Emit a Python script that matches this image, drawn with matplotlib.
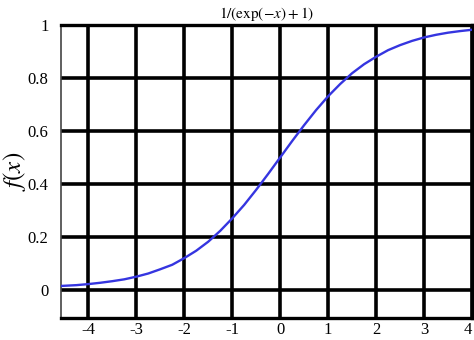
import matplotlib
matplotlib.use("Agg")
import matplotlib.pyplot as plt

plt.rcParams['font.family'] = ['Liberation Serif', 'DejaVu Serif']
plt.rcParams['mathtext.fontset'] = 'stix'

# values
x_vals = [-4.57, -4.25, -4.0, -3.75, -3.5, -3.25, -3.0, -2.75, -2.5, -2.25,
          -2.0, -1.75, -1.5, -1.25, -1.0, -0.75, -0.5, -0.25, 0.0, 0.25,
          0.5, 0.75, 1.0, 1.25, 1.5, 1.75, 2.0, 2.25, 2.5, 2.75, 3.0,
          3.25, 3.5, 3.75, 4.0]
y_vals = [0.015, 0.018, 0.022, 0.027, 0.033, 0.04, 0.05, 0.062, 0.078, 0.095,
          0.12, 0.148, 0.182, 0.223, 0.27, 0.321, 0.378, 0.438, 0.5, 0.562,
          0.622, 0.679, 0.731, 0.777, 0.818, 0.852, 0.88, 0.905, 0.924, 0.94, 0.953,
          0.963, 0.971, 0.977, 0.982]

x_ticks = [-4, -3, -2, -1, 0, 1, 2, 3, 4]
y_ticks = [0, 0.2, 0.4, 0.6, 0.8, 1]
y_labels = ['0', '0.2', '0.4', '0.6', '0.8', '1']

fig = plt.figure(figsize=(4.74, 3.4), dpi=100)
ax = fig.add_axes([61 / 474, 22 / 340, 411 / 474, 293 / 340])

ax.plot(x_vals, y_vals, color='#3535e0', lw=1.7, zorder=3)

ax.set_xlim(-4.57, 4.0)
ax.set_ylim(-0.106, 1.0)
ax.set_xticks(x_ticks)
ax.set_xticklabels([str(t) for t in x_ticks])
ax.set_yticks(y_ticks)
ax.set_yticklabels(y_labels)
ax.tick_params(length=0, labelsize=12)
ax.tick_params(axis='x', pad=3)
ax.tick_params(axis='y', pad=9)
ax.get_xticklabels()[-1].set_horizontalalignment('right')
ax.grid(True, color='black', lw=2.6)

for side, sp in ax.spines.items():
    sp.set_color('black')
    sp.set_linewidth(2.4)
ax.spines['left'].set_linewidth(1.2)
ax.spines['left'].set_color('#444444')

ax.set_ylabel(r'$f(x)$', fontsize=18, labelpad=0)
ax.set_title(r'$1/\left(\exp(-x)+1\right)$', fontsize=11, pad=5)

fig.savefig('out.png', dpi=100)
